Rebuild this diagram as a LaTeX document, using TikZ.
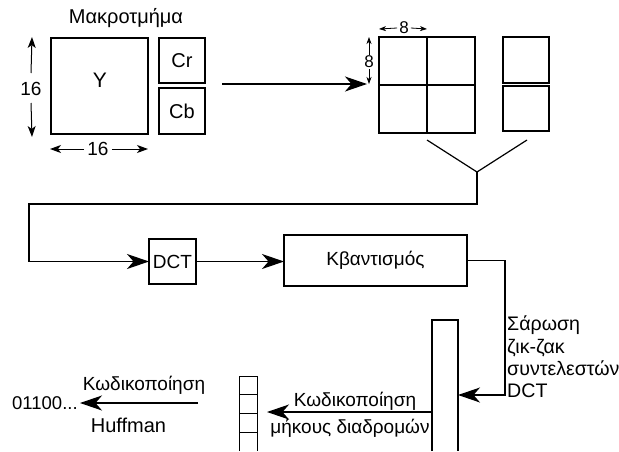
\documentclass[tikz,border=0pt]{standalone}
\usepackage{fontspec}
\setmainfont{Liberation Sans}
\usetikzlibrary{arrows.meta}
\begin{document}
\begin{tikzpicture}[x=1pt,y=-1pt,
  font=\fontsize{19}{21}\selectfont,
  box/.style={draw, line width=1.4pt, inner sep=0pt, outer sep=0pt, anchor=north west},
  cell/.style={draw, line width=1.8pt, inner sep=0pt, outer sep=0pt, anchor=north west,
               minimum width=48pt, minimum height=48pt},
  big/.style={font=\fontsize{20}{21}\selectfont},
  conn/.style={line width=1.2pt},
  arr/.style={conn, -{Stealth[length=22pt, width=15pt, inset=6.5pt]}},
  dim/.style={line width=1pt, -{Stealth[length=11pt, width=8pt, inset=3pt]}},
  dimsmall/.style={line width=0.8pt, -{Stealth[length=7pt, width=5pt, inset=2pt]}},
  lbl/.style={inner sep=0pt}]
\useasboundingbox (0,0) rectangle (619,451);

% Macroblock: luminance and the two chrominance blocks
\node[lbl, big] (title) at (126,18) {Μακροτμήμα};
\node[box, minimum width=97pt, minimum height=96pt] (Y) at (51,38) {};
\node[lbl, font=\fontsize{21}{21}\selectfont] (Ylbl) at (100,80) {Y};
\node[box, big, minimum width=46pt, minimum height=45pt] (Cr) at (159,38) {Cr};
\node[box, big, minimum width=46pt, minimum height=46pt] (Cb) at (159,88) {Cb};

% 16x16 dimensions
\node[lbl, font=\fontsize{19}{19}\selectfont] (v16) at (31,89) {16};
\coordinate (vt) at (32,37);
\coordinate (vb) at (32,137);
\draw[dim] (v16.north |- 0,73) -- (vt);
\draw[dim] (v16.south |- 0,103) -- (vb);
\node[lbl, font=\fontsize{19}{19}\selectfont] (h16) at (98,149) {16};
\coordinate (hl) at (50,149);
\coordinate (hr) at (148,149);
\draw[dim] (h16.west) ++(-3,0) -- (hl);
\draw[dim] (h16.east) ++(3,0) -- (hr);

% Split into 8x8 blocks
\coordinate (s1) at (222,84);
\coordinate (s2) at (367,84);
\draw[arr] (s1) -- (s2);

\node[cell] (g11) at (379,37) {};
\node[cell] (g12) at (427,37) {};
\node[cell] (g21) at (379,85) {};
\node[cell] (g22) at (427,85) {};
\node[box, minimum width=46pt, minimum height=46pt] (r1) at (503,37) {};
\node[box, minimum width=46pt, minimum height=45pt] (r2) at (503,86) {};

% 8x8 dimensions
\node[lbl, font=\fontsize{17}{17}\selectfont] (h8) at (404,28) {8};
\draw[dimsmall] (h8.west) ++(-2,0) -- (g11.north west |- 0,29);
\draw[dimsmall] (h8.east) ++(2,0) -- (g11.north east |- 0,29);
\node[lbl, font=\fontsize{17}{17}\selectfont] (v8) at (369,62) {8};
\draw[dimsmall] (v8.north) ++(0,-1) -- (369,37);
\draw[dimsmall] (v8.south) ++(0,1) -- (369,84);

% Merge of the blocks into the transform stage
\coordinate (ya) at (427,140);
\coordinate (yb) at (527,140);
\coordinate (yj) at (477,172);
\draw[conn] (ya) -- (yj) -- (yb);

\node[box, minimum width=47pt, minimum height=45pt] (dct) at (149,239) {DCT};
\node[box, minimum width=183pt, minimum height=51pt] (kv) at (284,235) {Κβαντισμός};

\coordinate (ret) at (29,204);
\draw[arr] (yj) |- (ret) |- (dct.west);
\draw[arr] (dct.east) -- (kv.west |- dct.east);

% Zig-zag scan vector
\node[inner sep=0pt, outer sep=0pt, anchor=north west, minimum width=26pt, minimum height=131pt] (scan) at (432,320) {};
\draw[line width=1.4pt] (scan.south west) -- (scan.north west) -- (scan.north east) -- (scan.south east);

\coordinate (c1) at (505,395);
\draw[arr] (kv.east) -| (c1) -- (c1 -| scan.east);
\node[lbl, anchor=north west, align=left, font=\fontsize{19.6}{22.3}\selectfont] (scantxt) at (507,316)
  {Σάρωση\\ζικ-ζακ\\συντελεστών\\DCT};

% Run-length coded output
\node[inner sep=0pt, outer sep=0pt, anchor=north west, minimum width=18pt, minimum height=75pt] (stack) at (239,376) {};
\draw[line width=1pt] (scan.south west -| stack.west) -- (stack.north west) -- (stack.north east) -- (scan.south east -| stack.east);
\draw[line width=1pt] (stack.west |- 0,394) -- (stack.east |- 0,394)
                      (stack.west |- 0,413) -- (stack.east |- 0,413)
                      (stack.west |- 0,432) -- (stack.east |- 0,432);

\coordinate (rl) at (267,412);
\draw[arr] (scan.west |- rl) -- (rl);
\node[lbl] (rltop) at (355,401) {Κωδικοποίηση};
\node[lbl] (rlbot) at (350,428) {μήκους διαδρομών};

% Huffman coding
\coordinate (hf1) at (198,403);
\coordinate (hf2) at (80,403);
\draw[arr] (hf1) -- (hf2);
\node[lbl] (hftop) at (144,385) {Κωδικοποίηση};
\node[lbl, font=\fontsize{20}{21}\selectfont] (hfbot) at (128.5,425) {Huffman};
\node[lbl, anchor=west, font=\fontsize{18.5}{20}\selectfont] (bits) at (12,403) {01100...};
\end{tikzpicture}
\end{document}
